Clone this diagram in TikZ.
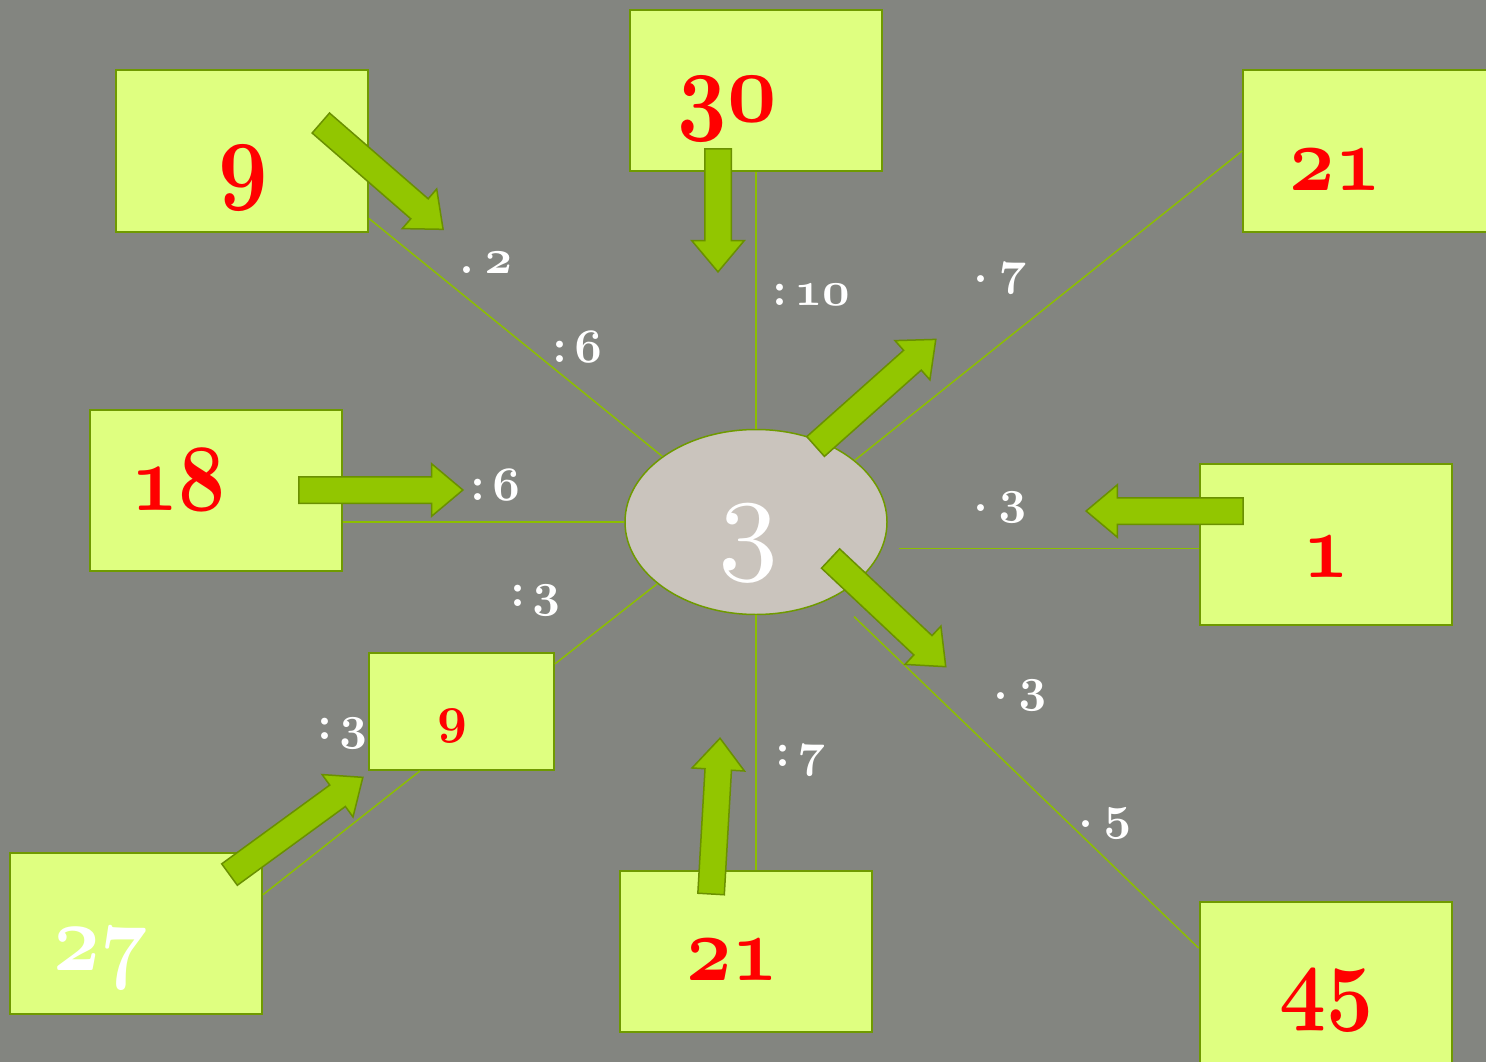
\documentclass[tikz,border=0pt]{standalone}
\usepackage{xcolor}
\usepackage{graphicx}
\usepackage{tikz}
\usetikzlibrary{arrows.meta,positioning,shapes.geometric,shapes.arrows,calc}
\definecolor{slate}{HTML}{838580}
\definecolor{lime}{HTML}{DFFF80}
\definecolor{moss}{HTML}{6F9A00}
\definecolor{leaf}{HTML}{92C600}
\definecolor{leafdark}{HTML}{6A9000}
\definecolor{twig}{HTML}{8CBF00}
\definecolor{stone}{HTML}{CAC4BD}
% old-style figures, size in pt
\newcommand{\osn}[2]{{\font\osnfont=cmmib10 at #1pt\osnfont #2}}
\newcommand{\osnwide}[2]{\scalebox{0.86}[1]{\osn{#1}{#2}}}
\newcommand{\osnlight}[2]{{\font\osnfont=cmmi10 at #1pt\osnfont #2}}

\begin{document}
\begin{tikzpicture}[x=1pt,y=-1pt,
box/.style={draw=moss,line width=2pt,fill=lime,minimum width=252,minimum height=161,inner sep=0pt},
hub/.style={ellipse,draw=moss,line width=1.5pt,fill=stone,minimum width=262,minimum height=185,inner sep=0pt},
spoke/.style={draw=twig,line width=1.5pt},
fatarrow/.style={single arrow,draw=leafdark,fill=leaf,line width=1.5pt,inner xsep=0pt,inner ysep=12.5pt,single arrow head extend=13pt,single arrow tip angle=80},
num/.style={text=red,anchor=base,inner sep=0pt},
tag/.style={text=white,anchor=base,inner sep=0pt,font=\bfseries\fontsize{48}{48}\selectfont}
]
\useasboundingbox (0,0) rectangle (1486,1062);
\fill[slate] (0,0) rectangle (1486,1062);

\node[box] (b9) at (242,151) {};
\node[box] (b30) at (756,90.5) {};
\node[box] (b21t) at (1369,151) {};
\node[box] (b18) at (216,490.5) {};
\node[box] (b1) at (1325.5,544) {};
\node[box,minimum width=185,minimum height=117] (b9s) at (461.5,711.5) {};
\node[box] (b27) at (136,933.5) {};
\node[box] (b21b) at (745.5,951) {};
\node[box] (b45) at (1325.5,982) {};
\node[hub] (hub) at (756,522) {};

% spokes
\draw[spoke] (b9.-28) -- (hub.145);
\draw[spoke] (b30) -- (hub);
\draw[spoke] (b21t.west) -- (hub.32);
\draw[spoke] (b18.east |- hub.west) -- (hub.west);
\draw[spoke,shorten >=11pt] (b1.182) -- (hub.east |- b1.182);
\draw[spoke] (b9s.27) -- (hub.212);
\draw[spoke] (b27.17) -- (b9s.235);
\draw[spoke] (hub.south) -- (hub.south |- b21b.north);
\draw[spoke,shorten >=28pt] (b45.165) -- (hub.-44);

% block arrows
\node[fatarrow,minimum height=162,rotate=-41] (a1) at (376,171) {};
\node[fatarrow,minimum height=123,rotate=-90] (a2) at (718,202.5) {};
\node[fatarrow,minimum height=161,rotate=41.7] (a3) at (869.8,398.2) {};
\node[fatarrow,minimum height=164] (a4) at (373,490) {};
\node[fatarrow,minimum height=157,rotate=180] (a5) at (1172.5,511) {};
\node[fatarrow,minimum height=158,rotate=-43.2] (a6) at (882.4,607.2) {};
\node[fatarrow,minimum height=165,rotate=36.1] (a7) at (289.8,830.6) {};
\node[fatarrow,minimum height=156,rotate=86.7] (a8) at (715.1,824) {};

% numbers
\node[num] (t9) at (243,190) {\osnwide{100}{9}};
\node[num] (t30) at (727,122) {\osnwide{100}{30}};
\node[num] (t21t) at (1335,190) {\osnwide{92}{21}};
\node[num] (t18) at (178,510) {\osnwide{95}{18}};
\node[num] (t1) at (1326,577) {\osnwide{92}{1}};
\node[num] (t9s) at (452,732) {\osn{52}{9}};
\node[num,text=white] (t27) at (100,970) {\osnwide{95}{27}};
\node[num] (t21b) at (732,980) {\osnwide{92}{21}};
\node[num] (t45) at (1326,1012) {\osnwide{95}{45}};
\node[num,text=white] (t3) at (748,557) {\osnlight{120}{3}};

% operations
\node[tag] (o1) at (486,273) {.\hspace{0.2em}\osn{48}{2}};
\node[tag] (o2) at (577,362) {:\hspace{0.15em}\osn{48}{6}};
\node[tag] (o3) at (811,305) {:\hspace{0.15em}\osn{48}{10}};
\node[tag] (o4) at (1000,284) {\raisebox{2pt}{.}\hspace{0.2em}\osn{48}{7}};
\node[tag] (o5) at (495,500) {:\hspace{0.15em}\osn{48}{6}};
\node[tag] (o6) at (535,606) {:\hspace{0.15em}\osn{48}{3}};
\node[tag] (o7) at (1000,513) {\raisebox{2pt}{.}\hspace{0.2em}\osn{48}{3}};
\node[tag] (o8) at (342,739) {:\hspace{0.15em}\osn{48}{3}};
\node[tag] (o9) at (1020,701) {\raisebox{2pt}{.}\hspace{0.2em}\osn{48}{3}};
\node[tag] (o10) at (800,766) {:\hspace{0.15em}\osn{48}{7}};
\node[tag] (o11) at (1105,829) {\raisebox{2pt}{.}\hspace{0.2em}\osn{48}{5}};
\end{tikzpicture}
\end{document}
